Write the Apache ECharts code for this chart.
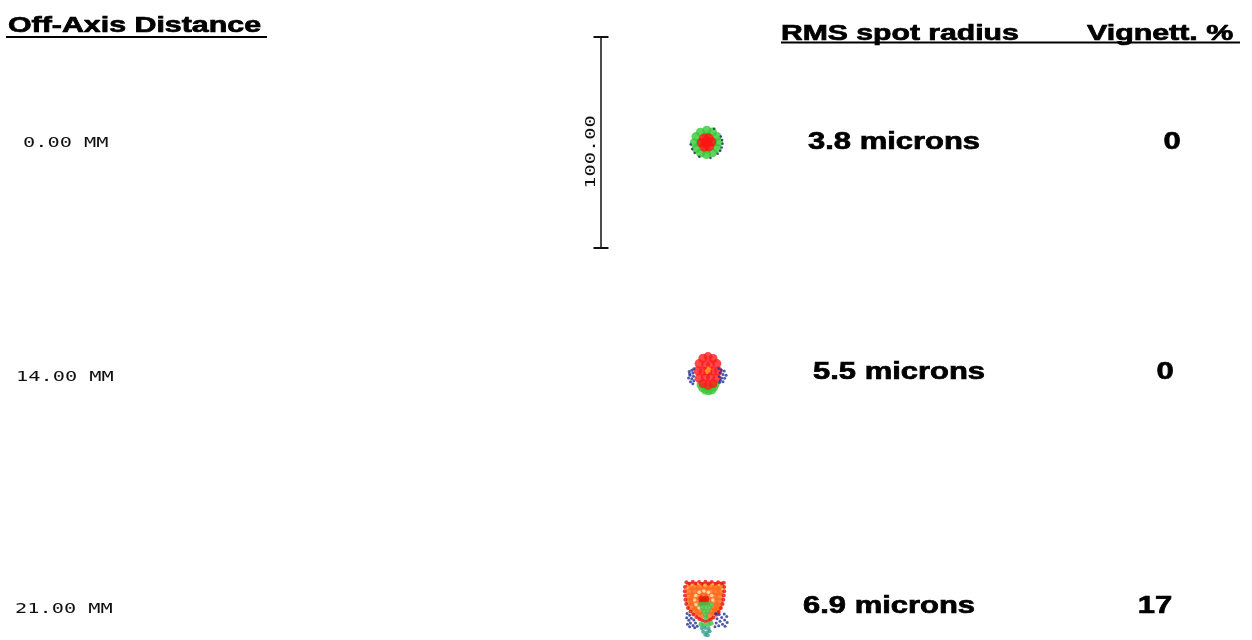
<!DOCTYPE html>
<html>
<head>
<meta charset="utf-8">
<script src="https://cdn.jsdelivr.net/npm/echarts@6/dist/echarts.min.js"></script>
<style>
  html, body { margin: 0; padding: 0; background: #fff; }
  #chart { width: 1252px; height: 640px; }
</style>
</head>
<body>
<div id="chart"></div>
<script>
// field rows
const fieldLabels = ['0.00 MM', '14.00 MM', '21.00 MM'];
const rmsRadius = ['3.8', '5.5', '6.9'];
const vignetting = ['0', '0', '17'];
const headerLeft = 'Off-Axis Distance';
const headerRms = 'RMS spot radius';
const headerVig = 'Vignett. %';
const scaleBarLength = 100; // microns
const scaleBarLabel = '100.00';

// spot intercepts in microns, relative to each field's centre
// field 1 (on axis)
const f1Green = [[5.7,0.2],[4.9,2.9],[2.8,5.0],[0.1,5.8],[-2.9,4.9],[-5.0,2.8],[-5.8,-0.1],[-4.9,-2.9],
  [-2.8,-5.0],[0.0,-5.7],[2.9,-4.9],[5.0,-2.8],[3.0,0],[-3.0,0],[0,3.0],[0,-3.0]];
const f1Red = [[0,0],[2.2,0.3],[1.0,2.0],[-1.2,1.9],[-2.2,-0.1],[-1.0,-2.0],[1.2,-1.9]];
const f1Blue = [[7.4,1.2],[7.6,-0.6],[7.2,-2.4],[6.5,-3.9],[5.3,-5.3],[6.8,2.9],[-5.6,-5.0],[-6.8,-3.1],
  [-7.5,-1.0],[-3.4,-6.7],[1.9,-7.3],[3.6,6.5]];

// field 2 (14 mm)
const f2Green = [[-2.0,-7.6],[-0.6,-8.8],[1.0,-9.1],[2.6,-8.6],[3.6,-7.4],[0.8,-7.0],[-2.8,-6.0],[4.3,-5.8]];
const f2Red = [[5.5,0.5],[4.9,4.0],[3.1,6.4],[0.7,7.3],[-1.7,6.5],[-3.5,4.0],[-4.1,0.6],[-3.5,-3.0],
  [-1.7,-5.4],[0.7,-6.3],[3.1,-5.5],[4.9,-3.0],[3.0,0.5],[1.9,3.5],[-0.5,3.4],[-1.6,0.4],[-0.5,-2.5],
  [1.9,-2.6],[0.7,0.5]];
const f2Orange = [[0.4,1.2],[1.2,0.4],[0.8,2.0],[-0.2,0.6],[1.6,1.4],[0.2,-0.4]];
const f2Blue = [[-6.0,1.5],[-7.0,0.8],[-8.2,0.2],[-6.5,-0.5],[-7.8,-1.5],[-6.2,-2.0],[-8.5,-2.8],[-7.0,-3.2],
  [-6.0,-4.2],[-7.6,-4.6],[-6.5,-5.6],[-8.0,-0.8],[5.8,1.6],[7.0,1.0],[8.4,0.5],[6.4,-0.4],[7.8,-1.2],
  [9.3,-1.5],[6.0,-2.2],[7.2,-2.8],[8.6,-3.0],[6.6,-4.0],[7.8,-4.6],[6.2,-5.0]];

// field 3 (21 mm)
const f3Orange = [[-8,9.5],[-5.5,9.5],[-3,9.5],[-0.5,9.5],[2,9.5],[4.5,9.5],[6.5,9.5],
  [-8,7],[-5.5,7],[-3,7],[-0.5,7],[2,7],[4.5,7],[6.5,7],
  [-8,4.5],[-6,4.5],[-3.5,4.5],[-1.3,4.5],[1,4.5],[3.5,4.5],[6,4.5],
  [-8,2],[-6.5,2],[-3.5,2],[-1.3,2],[1,2],[3.5,2],[6,2],
  [-7,-0.5],[-4.5,-0.5],[4,-0.5],[5.5,-0.5],[-5.5,-2.5],[-3.5,-2.5],[3,-2.5],[4.5,-2.5],[-3,-4.5],[1.5,-4.5]];
const f3RedEdge = [[-9.5,11.2],[-8,10.6],[-6.5,11.5],[-5,10.7],[-3.5,11.4],[-2,10.6],[-0.5,11.5],[1,10.7],
  [2.5,11.4],[4,10.6],[5.5,11.3],[7,10.7],[8.2,11.0],
  [-10.2,9],[-10.3,7],[-10.2,5],[-10,3],[-9.6,1],[-8.8,-1],[-7.6,-2.6],[-6.2,-4],[-4.8,-5.2],[-3.4,-6.2],
  [-2,-6.8],[-0.6,-7.2],[8.4,9],[8.4,7],[8.2,5],[8,3],[7.6,1],[6.8,-1],[5.8,-2.8],[4.6,-4.2],[3.3,-5.4],
  [2,-6.4],[0.8,-7]];
const f3Yellow = [[-7,10],[-4,10.5],[-1,9.8],[3,10.3],[6,9.9],[-9,8.5],[7.5,8],[-1,3.3]];
const f3Ring = [[3.0,2.8],[2.4,5.0],[0.9,6.5],[-1.3,7.1],[-3.5,6.5],[-5.0,5.0],[-5.6,2.8],[-5.0,0.7],
  [-3.5,-0.9],[-1.3,-1.5],[0.9,-0.9],[2.4,0.7]];
const f3RedCore = [[-1.3,2.8],[-0.2,3.6],[-2.4,3.6],[-1.3,1.8],[-0.3,2.2],[-2.3,2.2]];
const f3Green = [[-2.8,0.8],[-1.2,1.0],[0.5,0.9],[2.2,0.6],[-2.0,-0.8],[-0.4,-0.9],[1.3,-1.0],[-1.2,-2.6],
  [0.4,-2.7],[-0.5,-4.3],[-0.2,-5.6],[-2.6,-8.6],[2.2,-8.2],[-1.2,-9.0],[0.8,-8.8]];
const f3Blue = [[-9.2,-3.6],[-8.0,-4.4],[-9.4,-5.6],[-7.2,-5.8],[-8.4,-6.8],[-6.0,-6.6],[-7.6,-8.0],[-5.2,-8.0],
  [-9.0,-8.6],[-6.4,-9.2],[-4.4,-9.6],[-8.0,-9.8],[-5.6,-10.3],[4.4,-3.6],[6.0,-4.0],[8.4,-3.8],[9.6,-5.0],
  [7.2,-5.4],[5.0,-6.0],[8.6,-6.6],[6.4,-7.2],[9.8,-7.8],[4.6,-8.0],[7.6,-8.6],[5.8,-9.4],[8.8,-9.6],[4.0,-9.8]];
const f3Teal = [[-2.2,-10.6],[-0.6,-10.4],[1.0,-10.8],[-1.6,-12.2],[0.2,-12.4],[1.5,-12.0],[-0.6,-13.6],[0.6,-13.9]];

// layout
const rowCenterY = [142.5, 372, 606];
const rowHalfUm = [50, 50, 16];   // last row is kept inside the canvas
const labelX = [23, 16, 15];
const labelY = [143, 377.5, 609];
const rmsX = [808, 813, 803];
const vigX = [1172, 1165, 1155];
const PX_PER_UM = 2.11;
const halfXUm = 50;

const chart = echarts.init(document.getElementById('chart'));

const grids = rowCenterY.map((cy, i) => ({
  left: 706.5 - halfXUm * PX_PER_UM,
  top: cy - rowHalfUm[i] * PX_PER_UM,
  width: 2 * halfXUm * PX_PER_UM,
  height: 2 * rowHalfUm[i] * PX_PER_UM
}));
const xAxes = grids.map((g, i) => ({ type: 'value', gridIndex: i, min: -halfXUm, max: halfXUm, show: false }));
const yAxes = grids.map((g, i) => ({ type: 'value', gridIndex: i, min: -rowHalfUm[i], max: rowHalfUm[i], show: false }));

const layers = [
  { g: 0, data: f1Green, color: '#35c935', size: 9 },
  { g: 0, data: f1Red, color: '#ff1414', size: 10 },
  { g: 0, data: f1Blue, color: '#1c2466', size: 2.5 },
  { g: 1, data: f2Green, color: '#35c935', size: 8 },
  { g: 1, data: f2Red, color: '#ff1a1a', size: 9 },
  { g: 1, data: f2Orange, color: '#ffa020', size: 3 },
  { g: 1, data: f2Blue, color: '#1f2f9a', size: 3 },
  { g: 2, data: f3Orange, color: '#ff6a1a', size: 8 },
  { g: 2, data: f3RedEdge, color: '#e81010', size: 4 },
  { g: 2, data: f3Yellow, color: '#f5d040', size: 2.5 },
  { g: 2, data: f3Ring, color: '#f7efc0', size: 3.5 },
  { g: 2, data: f3RedCore, color: '#e81a10', size: 6 },
  { g: 2, data: f3Green, color: '#45c045', size: 5 },
  { g: 2, data: f3Blue, color: '#1f2f9a', size: 3 },
  { g: 2, data: f3Teal, color: '#2a9d8f', size: 4 }
];

const series = layers.map(l => ({
  type: 'scatter',
  xAxisIndex: l.g,
  yAxisIndex: l.g,
  data: l.data,
  symbol: 'circle',
  symbolSize: l.size,
  itemStyle: { color: l.color },
  silent: true
}));

// scale bar, 100 microns, in field-1 coordinates
series.push({
  type: 'line',
  xAxisIndex: 0,
  yAxisIndex: 0,
  data: [[-scaleBarLength / 2, -scaleBarLength / 2], [-scaleBarLength / 2, scaleBarLength / 2]],
  symbol: 'rect',
  symbolSize: [15, 2],
  clip: false,
  itemStyle: { color: '#111' },
  lineStyle: { color: '#111', width: 1.5 },
  silent: true
});

const boldFont = (size) => `bold ${size}px "Liberation Sans", Arial, sans-serif`;
const monoFont = '14px "DejaVu Sans Mono", monospace';
const boldText = (text, x, y, size, scaleX, align) => ({
  type: 'text', x: x, y: y, scaleX: scaleX,
  style: { text: text, font: boldFont(size), fill: '#000', stroke: '#000', lineWidth: 0.7, align: align, verticalAlign: 'middle' }
});

const graphic = [
  boldText(headerLeft, 8, 25.5, 22, 1.38, 'left'),
  { type: 'line', shape: { x1: 6, y1: 37, x2: 267, y2: 37 }, style: { stroke: '#000', lineWidth: 2 } },
  boldText(headerRms, 781, 33.5, 22, 1.37, 'left'),
  boldText(headerVig, 1087, 33.5, 22, 1.38, 'left'),
  { type: 'line', shape: { x1: 781, y1: 42.5, x2: 1240, y2: 42.5 }, style: { stroke: '#000', lineWidth: 2 } },
  { type: 'text', x: 591, y: 152, rotation: Math.PI / 2, scaleX: 1.45, style: { text: scaleBarLabel, font: monoFont, fill: '#111', align: 'center', verticalAlign: 'middle' } }
];

fieldLabels.forEach((lab, i) => {
  graphic.push({ type: 'text', x: labelX[i], y: labelY[i], scaleX: 1.45, style: { text: lab, font: monoFont, fill: '#111', align: 'left', verticalAlign: 'middle' } });
  graphic.push(boldText(rmsRadius[i] + ' microns', rmsX[i], rowCenterY[i], 24, 1.29, 'left'));
  graphic.push(boldText(vignetting[i], vigX[i], rowCenterY[i], 24, 1.29, 'center'));
});

chart.setOption({
  animation: false,
  backgroundColor: '#fff',
  grid: grids,
  xAxis: xAxes,
  yAxis: yAxes,
  series: series,
  graphic: graphic
});
</script>
</body>
</html>
